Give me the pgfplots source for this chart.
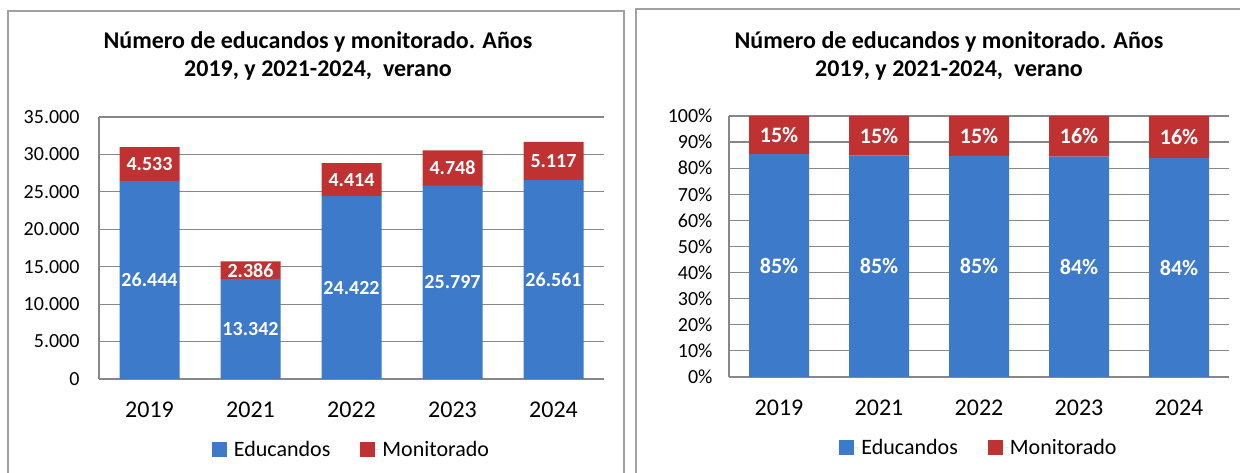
\documentclass[border=0pt]{standalone}
\usepackage{pgfplots}
\pgfplotsset{compat=1.18}
\usepackage{fontspec}
\setmainfont{Carlito}

\definecolor{barblue}{RGB}{62,122,202}
\definecolor{barred}{RGB}{192,50,50}
\definecolor{gridgray}{RGB}{135,135,135}
\definecolor{framegray}{RGB}{160,160,160}

\pgfplotsset{
  geomL/.style={scale only axis, at={(99bp,94bp)}, anchor=south west, width=505bp, height=262bp,
    xmin=-0.5, xmax=4.5, ymin=0, ymax=35000},
  geomR/.style={scale only axis, at={(729bp,96bp)}, anchor=south west, width=500bp, height=261bp,
    xmin=-0.5, xmax=4.5, ymin=0, ymax=100},
  common/.style={
    ybar stacked, bar width=60bp,
    xtick={0,1,2,3,4}, xticklabels={2019,2021,2022,2023,2024},
    ymajorgrids, grid style={gridgray, line width=1.2bp},
    axis x line*=bottom, axis y line*=left,
    axis line style={gridgray, line width=1.2bp},
    major tick length=0pt, clip=false,
    /pgf/number format/assume math mode=true,
    xticklabel style={font=\fontsize{24bp}{28bp}\selectfont, yshift=-19bp},
    legend columns=2,
    legend style={draw=none, fill=none, anchor=center, font=\fontsize{22bp}{26bp}\selectfont,
      at={(axis description cs:0.5,-0.27)},
      /tikz/every even column/.append style={column sep=28bp}},
    legend image code/.code={\fill[##1] (0bp,-7.5bp) rectangle (15bp,7.5bp);
      \path (0bp,0bp) -- (20bp,0bp);},
  },
  labels/.style={hide axis, clip=false,
    /pgf/number format/assume math mode=true},
}

\pgfplotstableread{
x ymid val
0 13222 26444
1 6671 13342
2 12211 24422
3 12898.5 25797
4 13280.5 26561
0 28710.5 4533
1 14535 2386
2 26629 4414
3 28171 4748
4 29119.5 5117
}\labelsL

\pgfplotstableread{
x ymid val
0 42.685 85.37
1 42.415 84.83
2 42.345 84.69
3 42.23 84.46
4 41.925 83.85
0 92.685 14.63
1 92.415 15.17
2 92.345 15.31
3 92.23 15.54
4 91.925 16.15
}\labelsR

\begin{document}
\begin{tikzpicture}[x=1bp,y=1bp]
\path[use as bounding box] (0,0) rectangle (1240,473);
\draw[framegray, line width=1.5bp] (8,-5) -- (8,462) -- (624,462) -- (624,-5);
\draw[framegray, line width=1.5bp] (636,-5) -- (636,464) -- (1250,464);

\node[font=\bfseries\fontsize{24bp}{28bp}\selectfont, align=center] at (318,417)
  {Número de educandos y monitorado. Años\\2019, y 2021-2024,~ verano};
\node[font=\bfseries\fontsize{24bp}{28bp}\selectfont, align=center] at (949,417)
  {Número de educandos y monitorado. Años\\2019, y 2021-2024,~ verano};

\begin{axis}[geomL, common,
  ytick={0,5000,10000,15000,20000,25000,30000,35000},
  scaled y ticks=false,
  yticklabel={\pgfmathprintnumber[fixed,1000 sep={.}]{\tick}},
  yticklabel style={font=\fontsize{20bp}{24bp}\selectfont, xshift=-16bp},
]
\addplot[fill=barblue, draw=none] coordinates {(0,26444) (1,13342) (2,24422) (3,25797) (4,26561)};
\addplot[fill=barred, draw=none] coordinates {(0,4533) (1,2386) (2,4414) (3,4748) (4,5117)};
\legend{Educandos,Monitorado}
\end{axis}

\begin{axis}[geomL, labels]
\addplot[only marks, mark=*, mark size=0pt, mark options={draw=none,fill=none},
  point meta=explicit,
  nodes near coords={\pgfmathprintnumber[fixed,precision=0,1000 sep={.}]{\pgfplotspointmeta}},
  every node near coord/.append style={anchor=center, text=white,
    font=\bfseries\fontsize{20bp}{24bp}\selectfont}]
  table[x=x, y=ymid, meta=val] {\labelsL};
\end{axis}

\begin{axis}[geomR, common,
  ytick={0,10,...,100},
  yticklabel={\pgfmathprintnumber{\tick}\%},
  yticklabel style={font=\fontsize{20bp}{24bp}\selectfont, xshift=-13bp},
]
\addplot[fill=barblue, draw=none] coordinates {(0,85.37) (1,84.83) (2,84.69) (3,84.46) (4,83.85)};
\addplot[fill=barred, draw=none] coordinates {(0,14.63) (1,15.17) (2,15.31) (3,15.54) (4,16.15)};
\legend{Educandos,Monitorado}
\end{axis}

\begin{axis}[geomR, labels]
\addplot[only marks, mark=*, mark size=0pt, mark options={draw=none,fill=none},
  point meta=explicit,
  nodes near coords={\pgfmathprintnumber[fixed,precision=0]{\pgfplotspointmeta}\%},
  every node near coord/.append style={anchor=center, text=white,
    font=\bfseries\fontsize{22bp}{26bp}\selectfont}]
  table[x=x, y=ymid, meta=val] {\labelsR};
\end{axis}
\end{tikzpicture}
\end{document}
